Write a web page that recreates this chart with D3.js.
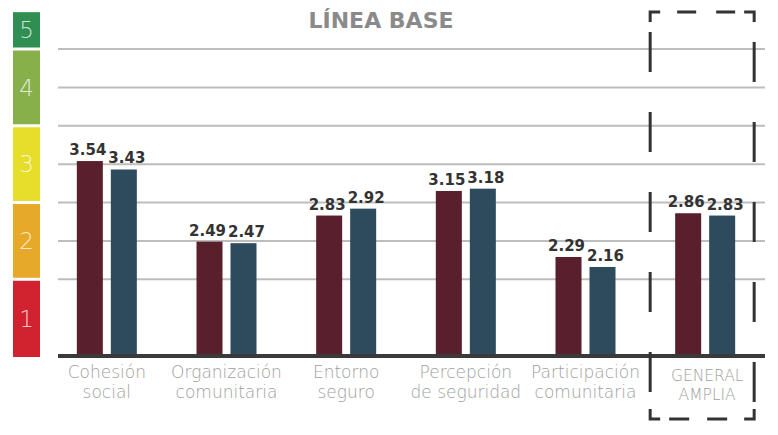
<!DOCTYPE html>
<html>
<head>
<meta charset="utf-8">
<script src="https://cdn.jsdelivr.net/npm/d3@7"></script>
<style>
  body { margin: 0; background: #fff; }
  svg { display: block; }
  .grid line { stroke: #bdbdbd; stroke-width: 2; }
  .value { font-family: "DejaVu Sans", sans-serif; font-weight: bold; font-size: 15px; fill: #333; }
  .cat { font-family: "DejaVu Sans", sans-serif; font-weight: 200; font-size: 17px; fill: #9e9e9e; }
  .cat.upper { font-size: 15.5px; }
  .level { font-family: "DejaVu Sans", sans-serif; font-weight: 200; font-size: 23px; fill: #fff; fill-opacity: 0.75; }
  .title { font-family: "DejaVu Sans", sans-serif; font-weight: bold; font-size: 22px; fill: #8a8a8a; }
  .box { stroke: #333; stroke-width: 3; fill: none; }
</style>
</head>
<body>
<svg id="chart"></svg>
<script>
const WIDTH = 778;
const HEIGHT = 435;

const title = 'LÍNEA BASE';
const categories = [
  ['Cohesión', 'social'],
  ['Organización', 'comunitaria'],
  ['Entorno', 'seguro'],
  ['Percepción', 'de seguridad'],
  ['Participación', 'comunitaria'],
  ['GENERAL', 'AMPLIA']
];
const seriesNames = ['serie1', 'serie2'];
const serie1 = [3.54, 2.49, 2.83, 3.15, 2.29, 2.86];
const serie2 = [3.43, 2.47, 2.92, 3.18, 2.16, 2.83];
const seriesColors = ['#5a1f2c', '#2e4b5e'];

const levels = [1, 2, 3, 4, 5];
const levelColors = ['#d0232f', '#e7a92a', '#e7dd2b', '#87b04b', '#2f8f52'];
const gridTicks = [2, 2.5, 3, 3.5, 4, 4.5, 5];

const LEVEL_TOP = 5.48; // the green "5" block sticks out above the scale
const GAP = 1.5;

const svg = d3.select('#chart').attr('width', WIDTH).attr('height', HEIGHT);

const y = d3.scaleLinear().domain([1, 5]).range([356, 49]);
const x = d3.scaleBand()
  .domain(d3.range(categories.length))
  .range([47, 765]);
const xInner = d3.scaleBand()
  .domain(seriesNames)
  .range([-30, 30])
  .paddingInner(0.235);

// colour scale on the left
const levelG = svg.append('g');
levels.forEach((lv, i) => {
  const bottom = i === 0 ? y(lv) + 1 : y(lv) - GAP;
  const top = lv === 5 ? y(LEVEL_TOP) : y(lv + 1) + GAP;
  levelG.append('rect')
    .attr('x', 13).attr('width', 27)
    .attr('y', top).attr('height', bottom - top)
    .attr('fill', levelColors[i]);
  levelG.append('text')
    .attr('class', 'level')
    .attr('x', 26.5)
    .attr('y', (top + bottom) / 2)
    .attr('dy', '0.36em')
    .attr('text-anchor', 'middle')
    .text(lv);
});

// gridlines
svg.append('g').attr('class', 'grid')
  .selectAll('line')
  .data(gridTicks)
  .join('line')
  .attr('x1', 58).attr('x2', 765)
  .attr('y1', (d) => y(d)).attr('y2', (d) => y(d));

svg.append('text')
  .attr('class', 'title')
  .attr('x', 381).attr('y', 28)
  .attr('text-anchor', 'middle')
  .text(title);

// bars
const rows = categories.map((c, i) => ({
  i,
  values: [
    { key: seriesNames[0], value: serie1[i], color: seriesColors[0] },
    { key: seriesNames[1], value: serie2[i], color: seriesColors[1] }
  ]
}));

const groups = svg.append('g')
  .selectAll('g')
  .data(rows)
  .join('g')
  .attr('transform', (d) => `translate(${x(d.i) + x.bandwidth() / 2},0)`);

groups.selectAll('rect')
  .data((d) => d.values)
  .join('rect')
  .attr('x', (d) => xInner(d.key))
  .attr('width', xInner.bandwidth())
  .attr('y', (d) => y(d.value))
  .attr('height', (d) => y(1) - y(d.value))
  .attr('fill', (d) => d.color);

groups.selectAll('text.value')
  .data((d) => d.values)
  .join('text')
  .attr('class', 'value')
  .attr('x', (d) => xInner(d.key) + xInner.bandwidth() / 2 + (d.key === seriesNames[0] ? -2 : 3))
  .attr('y', (d) => y(d.value) - 6)
  .attr('text-anchor', 'middle')
  .text((d) => d.value.toFixed(2));

// baseline
svg.append('line')
  .attr('x1', 58).attr('x2', 765)
  .attr('y1', y(1)).attr('y2', y(1))
  .attr('stroke', '#3a3a3a').attr('stroke-width', 4);

// category labels
const lastIdx = categories.length - 1;
categories.forEach((lines, i) => {
  const t = svg.append('text')
    .attr('class', i === lastIdx ? 'cat upper' : 'cat')
    .attr('text-anchor', 'middle');
  lines.forEach((ln, j) => {
    t.append('tspan')
      .attr('x', x(i) + x.bandwidth() / 2 + (i === lastIdx ? 2 : 0))
      .attr('y', (i === lastIdx ? 381 : 378) + j * (i === lastIdx ? 19 : 20))
      .text(ln);
  });
});

// dashed frame around the general result
const cx = x(lastIdx) + x.bandwidth() / 2;
const L = cx - 55, R = cx + 49, T = 12, B = 419;
const box = svg.append('g');
const arm = 10;
box.append('path').attr('class', 'box')
  .attr('d', `M${L},${T + arm}V${T}H${L + arm}M${R - arm},${T}H${R}V${T + arm}` +
    `M${L},${B - arm}V${B}H${L + arm}M${R - arm},${B}H${R}V${B - arm}`);
box.append('line').attr('class', 'box')
  .attr('x1', L).attr('x2', L).attr('y1', 32).attr('y2', B - 20)
  .attr('stroke-dasharray', '40 40');
box.append('line').attr('class', 'box')
  .attr('x1', R).attr('x2', R).attr('y1', 42).attr('y2', B - 12)
  .attr('stroke-dasharray', '40 40');
box.append('line').attr('class', 'box')
  .attr('x1', L + 27).attr('x2', R - 17).attr('y1', T).attr('y2', T)
  .attr('stroke-dasharray', '19 20');
box.append('line').attr('class', 'box')
  .attr('x1', L + 19).attr('x2', R - 26).attr('y1', B).attr('y2', B)
  .attr('stroke-dasharray', '20 18');
</script>
</body>
</html>
